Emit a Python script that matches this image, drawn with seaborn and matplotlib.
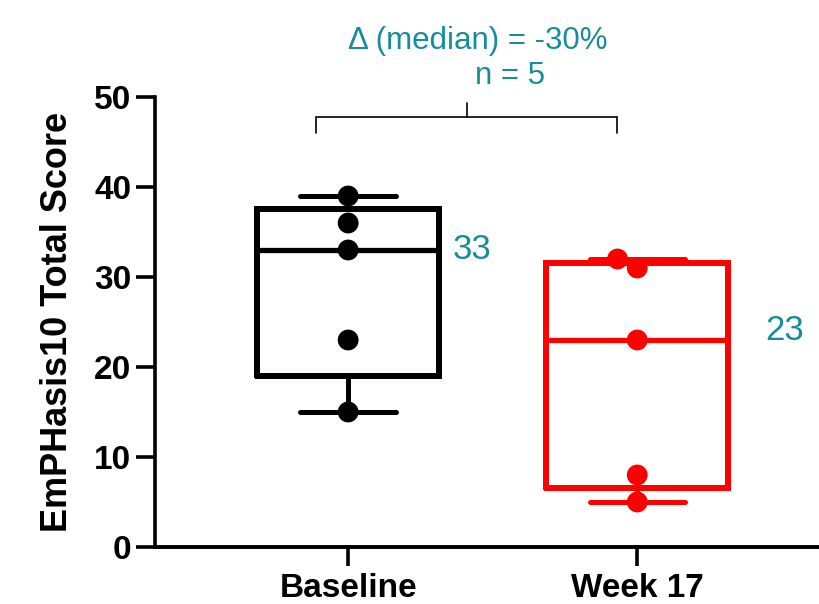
import numpy as np
import pandas as pd
import matplotlib
matplotlib.use("Agg")
import matplotlib.pyplot as plt
import seaborn as sns

# ---- data ----
categories = ["Baseline", "Week 17"]
baseline_scores = [39, 36, 33, 23, 15]
week17_scores = [32, 31, 23, 8, 5]
median_labels = ["33", "23"]
yticks = [0, 10, 20, 30, 40, 50]
delta_text = "\u0394 (median) = -30%"
n_text = "n = 5"
ylabel = "EmPHasis10 Total Score"

colors = ["#000000", "#FF0000"]
teal = "#178C9B"

sns.set_theme(style="ticks")
plt.rcParams["font.family"] = ["Liberation Sans", "DejaVu Sans"]

df = pd.DataFrame({
    "group": [categories[0]] * len(baseline_scores) + [categories[1]] * len(week17_scores),
    "score": baseline_scores + week17_scores,
})

fig = plt.figure(figsize=(8.19, 6.04), dpi=100)
ax = fig.add_axes([0.1893, 0.0944, 0.85, 0.745])

# Prism-style quartiles ((n+1)p method)
stats = []
for vals in (baseline_scores, week17_scores):
    v = np.array(vals, dtype=float)
    q1, med, q3 = np.percentile(v, [25, 50, 75], method="weibull")
    stats.append(dict(med=med, q1=q1, q3=q3, whislo=v.min(), whishi=v.max(), fliers=[]))

for i, st in enumerate(stats):
    c = colors[i]
    ax.bxp([st], positions=[i], widths=0.63, capwidths=0.33, showfliers=False,
           patch_artist=False,
           boxprops=dict(color=c, linewidth=4.3, solid_joinstyle="miter"),
           medianprops=dict(color=c, linewidth=3.8, solid_capstyle="round"),
           whiskerprops=dict(color=c, linewidth=3.6),
           capprops=dict(color=c, linewidth=3.6, solid_capstyle="round"),
           manage_ticks=False, zorder=2)

sns.swarmplot(data=df, x="group", y="score", hue="group", palette=colors,
              order=categories, size=15, legend=False, ax=ax, zorder=3,
              linewidth=0)

ax.set_xlim(-0.668, 1.74)
ax.set_ylim(0, 50)
ax.set_yticks(yticks)
ax.set_xticks([0, 1])
ax.set_xticklabels(categories)
ax.set_xlabel("")
ax.set_ylabel(ylabel, fontsize=26, fontweight="bold", color="black")
ax.yaxis.set_label_coords(-0.115, 0.5)

for lab in ax.get_yticklabels() + ax.get_xticklabels():
    lab.set_fontweight("bold")
    lab.set_fontsize(24)
    lab.set_color("black")

sns.despine(ax=ax)
ax.spines["left"].set_linewidth(2.6)
ax.spines["bottom"].set_linewidth(2.6)
ax.spines["left"].set_color("black")
ax.spines["bottom"].set_color("black")
ax.spines["left"].set_bounds(0, 50)
ax.axhline(0, color="black", lw=2.6, clip_on=False, zorder=1)
ax.tick_params(axis="both", length=14, width=2.6, color="black", pad=3)
ax.tick_params(axis="x", pad=5)

# median labels
ax.text(0.36, float(stats[0]["med"]), median_labels[0], color=teal, fontsize=25,
        ha="left", va="center")
ax.text(1.443, float(stats[1]["med"]) + 1, median_labels[1], color=teal, fontsize=25,
        ha="left", va="center")

# bracket
bx0, bx1, bxc = -0.11, 0.93, 0.41
by, bdrop, btop = 47.8, 46.0, 49.3
ax.plot([bx0, bx0, bx1, bx1], [bdrop, by, by, bdrop], color="black", lw=1.2,
        clip_on=False, solid_joinstyle="miter")
ax.plot([bxc, bxc], [by, btop], color="black", lw=1.2, clip_on=False)

ax.text(0.45, 56.2, delta_text, color=teal, fontsize=22.5, ha="center", va="center",
        clip_on=False)
ax.text(0.56, 52.3, n_text, color=teal, fontsize=22.5, ha="center", va="center",
        clip_on=False)

fig.savefig("out.png", dpi=100)
